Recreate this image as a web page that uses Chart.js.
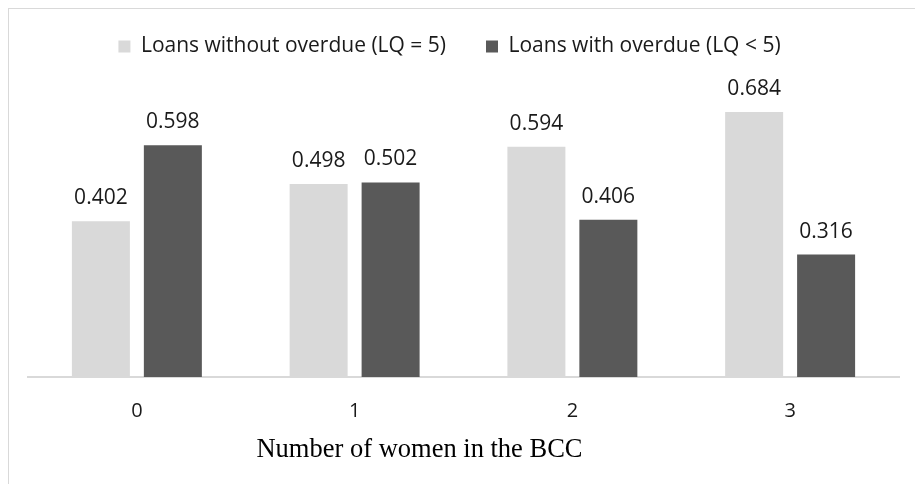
<!DOCTYPE html>
<html>
<head>
<meta charset="utf-8">
<script src="https://cdn.jsdelivr.net/npm/chart.js@4.4.1/dist/chart.umd.min.js"></script>
<style>
  body { margin: 0; background: #fff; }
  #wrap { position: relative; width: 915px; height: 484px; overflow: hidden; }
  #frame { position: absolute; left: 8px; top: 8px; width: 930px; height: 500px;
           border-left: 1px solid #d9d9d9; border-top: 1px solid #d9d9d9; }
  canvas { position: absolute; left: 0; top: 0; }
</style>
</head>
<body>
<div id="wrap">
  <div id="frame"></div>
  <canvas id="grafico" width="915" height="484"></canvas>
</div>
<script>
const categorias = ['0', '1', '2', '3'];
const semAtraso = [0.402, 0.498, 0.594, 0.684];
const comAtraso = [0.598, 0.502, 0.406, 0.316];
const nomeSemAtraso = 'Loans without overdue (LQ = 5)';
const nomeComAtraso = 'Loans with overdue (LQ < 5)';
const tituloX = 'Number of women in the BCC';

const fonte = "'Open Sans', sans-serif";

// rotulos de valor em cima das barras
const rotulos = {
    id: 'rotulos',
    afterDatasetsDraw(chart) {
        const ctx = chart.ctx;
        ctx.save();
        ctx.font = '21px ' + fonte;
        ctx.fillStyle = '#1a1a1a';
        ctx.textAlign = 'center';
        ctx.textBaseline = 'alphabetic';
        chart.data.datasets.forEach((ds, i) => {
            chart.getDatasetMeta(i).data.forEach((bar, j) => {
                ctx.fillText(ds.data[j].toFixed(3), bar.x, bar.y - 17);
            });
        });
        ctx.restore();
    }
};

// titulo do eixo x (um pouco deslocado para a esquerda, como no original)
const legendaEixo = {
    id: 'legendaEixo',
    afterDraw(chart) {
        const ctx = chart.ctx;
        const area = chart.chartArea;
        ctx.save();
        ctx.font = '26.5px "Liberation Serif", "Times New Roman", serif';
        ctx.fillStyle = '#000';
        ctx.textAlign = 'center';
        ctx.textBaseline = 'alphabetic';
        ctx.fillText(tituloX, (area.left + area.right) / 2 - 44, area.bottom + 80);
        ctx.restore();
    }
};

var ctx = document.getElementById('grafico').getContext('2d');
var grafico = new Chart(ctx, {
type: 'bar',
data: {
    labels: categorias,
    datasets: [
        {
            label: nomeSemAtraso,
            backgroundColor: '#d9d9d9',
            data: semAtraso
        },
        {
            label: nomeComAtraso,
            backgroundColor: '#595959',
            data: comAtraso
        }
    ]
},
options: {
    responsive: false,
    animation: false,
    layout: { padding: { top: -4, right: 16, bottom: 39, left: 0 } },
    categoryPercentage: 0.661,
    barPercentage: 0.806,
    plugins: {
        tooltip: { enabled: false },
        legend: {
            position: 'top',
            labels: {
                boxWidth: 12,
                boxHeight: 12,
                padding: 40,
                color: '#1a1a1a',
                font: { family: fonte, size: 21 }
            }
        }
    },
    scales: {
        x: {
            grid: { display: false, drawTicks: false },
            border: { display: true, color: '#d9d9d9', width: 2 },
            ticks: { color: '#1a1a1a', padding: 22, font: { family: fonte, size: 20 } }
        },
        y: {
            min: 0,
            max: 0.8,
            grid: { display: false, drawTicks: false },
            border: { display: false },
            ticks: { display: false },
            afterFit(scale) { scale.width = 28; }
        }
    }
},
plugins: [rotulos, legendaEixo]
});
</script>
</body>
</html>
